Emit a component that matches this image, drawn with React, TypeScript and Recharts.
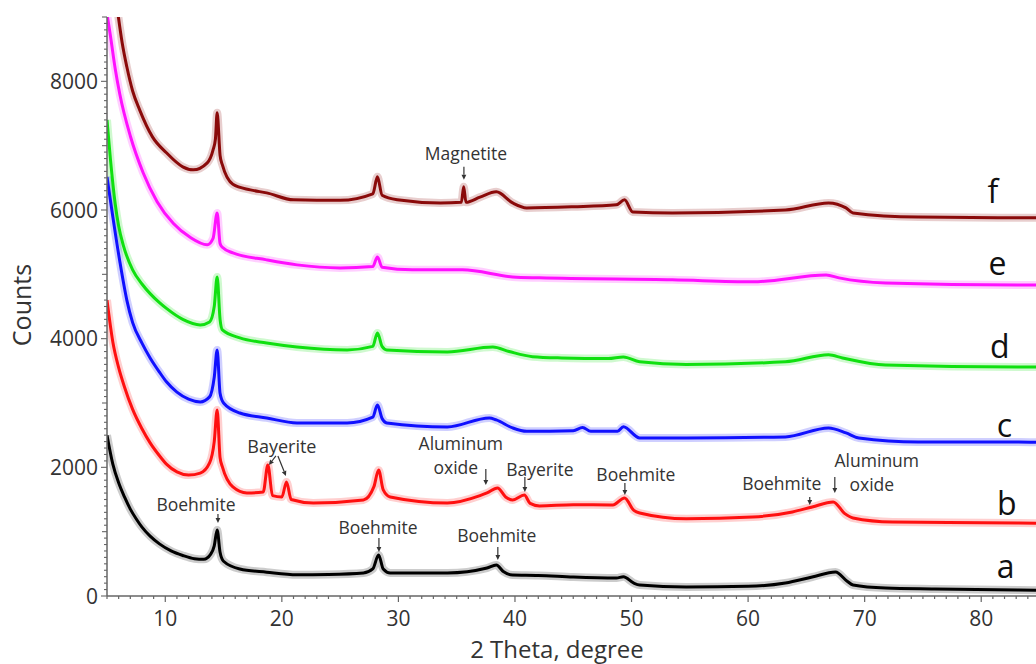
import React from 'react';
import { LineChart, Line, XAxis, YAxis, ReferenceDot } from 'recharts';

// 2 theta positions and counts
const aX = [5.0, 5.5, 6.0, 6.5, 7.0, 7.5, 8.0, 8.7, 9.5, 10.5, 11.5, 12.5, 13.3, 13.9, 14.2, 14.45, 14.7, 15.0, 16.4, 18.7, 21.3, 24.0, 27.0, 27.8, 28.3, 28.7, 29.3, 34.2, 37.6, 38.4, 39.0, 39.8, 42.0, 45.0, 48.7, 49.3, 50.2, 50.7, 54.7, 60.0, 63.2, 65.5, 67.5, 68.5, 69.0, 71.8, 76.0, 83.2, 84.7];
const aY = [2500, 2050, 1760, 1540, 1350, 1200, 1070, 930, 810, 700, 630, 580, 570, 650, 780, 1026, 680, 540, 420, 370, 330, 335, 358, 420, 637, 420, 358, 358, 435, 482, 380, 326, 320, 295, 280, 300, 200, 171, 140, 150, 202, 295, 373, 230, 171, 124, 110, 93, 90];

const bX = [5.0, 5.5, 6.0, 6.5, 7.2, 8.0, 8.7, 9.5, 10.1, 11.0, 12.0, 13.0, 13.8, 14.2, 14.45, 14.7, 14.9, 15.8, 17.0, 18.4, 18.8, 19.2, 20.0, 20.4, 20.8, 22.7, 27.0, 27.9, 28.3, 28.7, 29.3, 34.2, 37.0, 37.6, 38.5, 39.2, 39.8, 40.8, 41.3, 42.1, 45.0, 48.4, 49.4, 50.2, 50.7, 54.7, 60.4, 63.8, 65.5, 67.3, 68.3, 69.0, 72.4, 83.2, 84.7];
const bY = [4600, 3950, 3550, 3250, 2900, 2600, 2380, 2180, 2050, 1930, 1880, 1910, 2068, 2400, 2892, 2150, 2006, 1695, 1602, 1617, 2037, 1560, 1540, 1773, 1500, 1446, 1493, 1700, 1960, 1650, 1540, 1446, 1560, 1602, 1680, 1540, 1493, 1570, 1440, 1400, 1420, 1415, 1524, 1330, 1290, 1200, 1228, 1306, 1384, 1462, 1280, 1213, 1150, 1135, 1130];

const cX = [5.0, 5.5, 6.1, 6.7, 7.2, 8.0, 8.7, 9.5, 10.1, 11.0, 12.0, 13.0, 13.8, 14.2, 14.45, 14.7, 15.0, 16.4, 18.7, 21.3, 25.6, 27.8, 28.2, 28.6, 29.0, 34.2, 37.8, 38.4, 39.8, 41.0, 45.0, 45.8, 46.5, 48.8, 49.3, 50.7, 54.7, 63.2, 66.9, 68.4, 69.5, 74.6, 83.2, 84.7];
const cY = [6515, 5893, 5200, 4600, 4250, 3930, 3700, 3480, 3330, 3170, 3060, 3017, 3095, 3400, 3825, 3150, 3000, 2845, 2768, 2690, 2690, 2780, 2970, 2760, 2690, 2628, 2768, 2737, 2612, 2560, 2570, 2620, 2560, 2560, 2630, 2457, 2457, 2473, 2612, 2535, 2457, 2395, 2395, 2390];

const dX = [5.0, 5.3, 5.7, 6.0, 6.4, 7.2, 8.0, 8.7, 9.5, 10.1, 11.5, 13.0, 13.8, 14.2, 14.45, 14.7, 14.9, 16.4, 18.7, 21.3, 25.6, 27.8, 28.2, 28.6, 29.0, 34.2, 38.1, 39.5, 41.5, 44.0, 48.0, 49.3, 50.7, 54.7, 63.2, 66.9, 68.1, 71.8, 83.2, 84.7];
const dY = [7400, 6780, 6100, 5750, 5450, 5070, 4850, 4700, 4560, 4470, 4300, 4214, 4260, 4500, 4960, 4300, 4136, 4012, 3934, 3872, 3825, 3880, 4090, 3880, 3825, 3794, 3870, 3800, 3720, 3700, 3690, 3716, 3640, 3600, 3640, 3750, 3700, 3590, 3560, 3560];

const eX = [5.0, 5.3, 5.7, 6.1, 7.0, 8.1, 9.3, 10.7, 12.1, 13.6, 14.1, 14.45, 14.7, 14.9, 15.8, 18.7, 21.3, 25.0, 27.8, 28.2, 28.6, 31.2, 35.5, 39.8, 42.1, 53.5, 60.4, 66.7, 67.8, 71.8, 83.2, 84.7];
const eY = [9050, 8700, 8200, 7800, 7150, 6580, 6130, 5790, 5580, 5460, 5560, 5955, 5480, 5420, 5333, 5225, 5147, 5100, 5120, 5271, 5110, 5070, 5070, 4960, 4945, 4914, 4883, 4990, 4945, 4867, 4836, 4836];

const fX = [5.95, 6.3, 6.7, 7.2, 7.8, 8.9, 10.1, 11.5, 12.4, 13.6, 14.1, 14.3, 14.45, 14.7, 14.9, 15.8, 17.3, 18.7, 21.0, 25.0, 27.8, 28.2, 28.6, 29.9, 33.6, 35.4, 35.6, 35.8, 37.0, 38.4, 39.8, 41.0, 45.0, 48.7, 49.4, 50.1, 53.5, 63.2, 66.9, 68.4, 69.0, 74.6, 83.2, 84.7];
const fY = [9036, 8600, 8226, 7850, 7557, 7137, 6889, 6671, 6624, 6733, 6935, 7100, 7510, 6850, 6700, 6400, 6313, 6266, 6158, 6150, 6250, 6515, 6230, 6160, 6110, 6120, 6360, 6120, 6200, 6282, 6110, 6033, 6050, 6080, 6158, 5970, 5955, 6000, 6110, 6033, 5955, 5890, 5880, 5880];

const xTicks = Array.from({ length: 80 }, (_, i) => 5 + i);
const yTicks = Array.from({ length: 91 }, (_, i) => i * 100);

const toPoints = (xs: number[], ys: number[]) => xs.map((x, i) => ({ x, y: ys[i] }));

const series = [
  { name: 'a', color: '#000000', data: toPoints(aX, aY) },
  { name: 'b', color: '#ff1010', data: toPoints(bX, bY) },
  { name: 'c', color: '#1010ff', data: toPoints(cX, cY) },
  { name: 'd', color: '#10e010', data: toPoints(dX, dY) },
  { name: 'e', color: '#ff10ff', data: toPoints(eX, eY) },
  { name: 'f', color: '#8a0a0a', data: toPoints(fX, fY) },
];

// curve letters at the right hand side
const letters = [
  { text: 'a', x: 82.1, y: 280 },
  { text: 'b', x: 82.2, y: 1260 },
  { text: 'c', x: 82.0, y: 2472 },
  { text: 'd', x: 81.6, y: 3701 },
  { text: 'e', x: 81.4, y: 4992 },
  { text: 'f', x: 81.0, y: 6111 },
];

// peak labels: arrow tip in data units, text offset in px
const notes = [
  { lines: ['Boehmite'], x: 14.52, y: 1135, len: 9, dx: -22, dy: -12 },
  { lines: ['Boehmite'], x: 28.33, y: 684, len: 14, dx: -1, dy: -18 },
  { lines: ['Boehmite'], x: 38.53, y: 560, len: 13, dx: -1, dy: -18 },
  { lines: ['Aluminum', 'oxide'], x: 37.5, y: 1726, len: 16, dx: -30, dy: -11 },
  { lines: ['Bayerite'], x: 40.85, y: 1617, len: 15, dx: 15, dy: -16 },
  { lines: ['Boehmite'], x: 49.43, y: 1571, len: 12, dx: 11, dy: -14 },
  { lines: ['Boehmite'], x: 65.29, y: 1415, len: 8, dx: -28, dy: -15 },
  { lines: ['Aluminum', 'oxide'], x: 67.44, y: 1602, len: 16, dx: 37, dy: -2 },
  { lines: ['Magnetite'], x: 35.62, y: 6469, len: 13, dx: 2, dy: -20 },
];

const FONT = '"Open Sans", "Liberation Sans", Arial, sans-serif';
const INK = '#333';

const arrow = (x1: number, y1: number, x2: number, y2: number, key: string) => {
  const ang = Math.atan2(y2 - y1, x2 - x1);
  const hl = 5;
  const hw = 2.4;
  const bx = x2 - hl * Math.cos(ang);
  const by = y2 - hl * Math.sin(ang);
  const px = -Math.sin(ang) * hw;
  const py = Math.cos(ang) * hw;
  return (
    <g key={key}>
      <line x1={x1} y1={y1} x2={bx} y2={by} stroke={INK} strokeWidth={1.2} />
      <path d={`M${x2},${y2} L${bx + px},${by + py} L${bx - px},${by - py} Z`} fill={INK} />
    </g>
  );
};

const XTick = (props: any) => {
  const { x, y, payload } = props;
  const major = payload.value % 10 === 0;
  return (
    <g>
      <line x1={x} y1={y} x2={x} y2={y + (major ? 6 : 3)} stroke="#666" strokeWidth={1.2} />
      {major && (
        <text x={x} y={y + 30} textAnchor="middle" fontSize={21} fontFamily={FONT} fill={INK}>
          {payload.value}
        </text>
      )}
    </g>
  );
};

const YTick = (props: any) => {
  const { x, y, payload } = props;
  const v = payload.value;
  const len = v % 2000 === 0 ? 6 : v % 1000 === 0 ? 5 : 3;
  return (
    <g>
      <line x1={x} y1={y} x2={x - len} y2={y} stroke="#666" strokeWidth={1.1} />
      {v % 2000 === 0 && (
        <text x={x - 9} y={y} dy="0.36em" textAnchor="end" fontSize={21} fontFamily={FONT} fill={INK}>
          {v}
        </text>
      )}
    </g>
  );
};

export default function App() {
  return (
    <div style={{ position: 'relative', width: 1036, height: 664 }}>
      <style>{'body{margin:0;}'}</style>
      <LineChart width={1036} height={664} margin={{ top: 17, right: 0, bottom: 38, left: 0 }}>
        <XAxis
          dataKey="x"
          type="number"
          domain={[5, 84.7]}
          allowDataOverflow
          ticks={xTicks}
          interval={0}
          tickSize={0}
          tickMargin={0}
          height={30}
          tick={<XTick />}
          axisLine={{ stroke: '#666', strokeWidth: 1.5 }}
        />
        <YAxis
          type="number"
          domain={[0, 9000]}
          allowDataOverflow
          ticks={yTicks}
          interval={0}
          tickSize={0}
          tickMargin={0}
          width={107}
          tick={<YTick />}
          axisLine={{ stroke: '#666', strokeWidth: 1.5 }}
        />
        {series.map((s) => (
          <Line
            key={s.name + '-band'}
            data={s.data}
            dataKey="y"
            type="monotone"
            stroke={s.color}
            strokeOpacity={0.2}
            strokeWidth={8}
            dot={false}
            activeDot={false}
            isAnimationActive={false}
          />
        ))}
        {series.map((s) => (
          <Line
            key={s.name}
            data={s.data}
            dataKey="y"
            type="monotone"
            stroke={s.color}
            strokeWidth={3}
            dot={false}
            activeDot={false}
            isAnimationActive={false}
          />
        ))}
        {letters.map((l) => (
          <ReferenceDot
            key={'l' + l.text}
            x={l.x}
            y={l.y}
            r={0}
            shape={(p: any) => (
              <text x={p.cx} y={p.cy} textAnchor="middle" fontSize={32} fontFamily={FONT} fill="#111">
                {l.text}
              </text>
            )}
          />
        ))}
        {notes.map((n, i) => (
          <ReferenceDot
            key={'n' + i}
            x={n.x}
            y={n.y}
            r={0}
            shape={(p: any) => (
              <g>
                {arrow(p.cx, p.cy - n.len, p.cx, p.cy, 'a')}
                {n.lines.map((t, j) => (
                  <text
                    key={t}
                    x={p.cx + n.dx + (n.lines.length > 1 && j === 0 ? 5 : 0)}
                    y={p.cy + n.dy - (n.lines.length - 1 - j) * 24}
                    textAnchor="middle"
                    fontSize={17.5}
                    fontFamily={FONT}
                    fill={INK}
                  >
                    {t}
                  </text>
                ))}
              </g>
            )}
          />
        ))}
        <ReferenceDot
          x={18.89}
          y={2037}
          r={0}
          shape={(p: any) => (
            <g>
              {arrow(p.cx + 7, p.cy - 9, p.cx, p.cy, 'l')}
              {arrow(p.cx + 9, p.cy - 9, p.cx + 17, p.cy + 11, 'r')}
              <text x={p.cx + 13} y={p.cy - 12} textAnchor="middle" fontSize={18} fontFamily={FONT} fill={INK}>
                Bayerite
              </text>
            </g>
          )}
        />
      </LineChart>
      <svg width={1036} height={664} style={{ position: 'absolute', left: 0, top: 0, pointerEvents: 'none' }}>
        <text x={22} y={305} transform="rotate(-90 22 305)" dy="0.36em" textAnchor="middle" fontSize={25} fontFamily={FONT} fill={INK}>
          Counts
        </text>
        <text x={557} y={658} textAnchor="middle" fontSize={24} fontFamily={FONT} fill={INK}>
          2 Theta, degree
        </text>
      </svg>
    </div>
  );
}
